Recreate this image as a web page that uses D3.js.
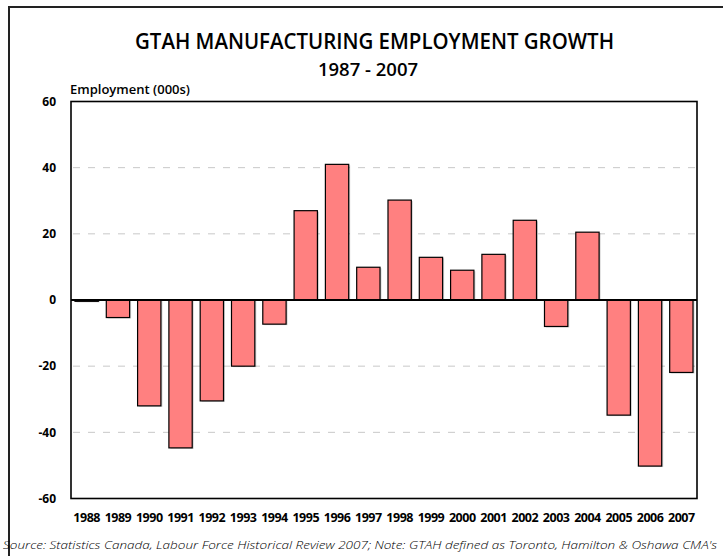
<!DOCTYPE html>
<html>
<head>
<meta charset="utf-8">
<script src="https://cdn.jsdelivr.net/npm/d3@7/dist/d3.min.js"></script>
<style>
  html, body { margin: 0; padding: 0; background: #fff; }
  svg { display: block; }
  text { font-family: "Open Sans", "Liberation Sans", sans-serif; fill: #000; }
</style>
</head>
<body>
<svg id="chart" width="723" height="556"></svg>
<script>
// Annual change in GTAH manufacturing employment (thousands)
const years = ["1988","1989","1990","1991","1992","1993","1994","1995","1996","1997",
               "1998","1999","2000","2001","2002","2003","2004","2005","2006","2007"];
const growth = [-0.4, -5.3, -32.0, -44.7, -30.5, -20.0, -7.3, 27.0, 41.0, 9.9,
                30.2, 12.9, 9.0, 13.8, 24.1, -8.0, 20.5, -34.8, -50.2, -21.9];
const yTicks = [-60, -40, -20, 0, 20, 40, 60];
const gridTicks = [-40, -20, 20, 40];

const title = "GTAH MANUFACTURING EMPLOYMENT GROWTH";
const subtitle = "1987 - 2007";
const yLabel = "Employment (000s)";
const source = "Source: Statistics Canada, Labour Force Historical Review 2007; Note: GTAH defined as Toronto, Hamilton & Oshawa CMA's";

const svg = d3.select("#chart");
const plot = { left: 71, right: 697, top: 101.5, bottom: 498.5 };

// outer frame (runs off the right and bottom edges)
svg.append("rect")
  .attr("x", 9).attr("y", 7)
  .attr("width", 730).attr("height", 560)
  .attr("fill", "none").attr("stroke", "#222").attr("stroke-width", 2);

const x = d3.scaleBand().domain(years)
  .range([plot.left, plot.right]).paddingInner(0.255).paddingOuter(0.1275);
const y = d3.scaleLinear().domain([-60, 60]).range([plot.bottom, plot.top]);

// dashed gridlines
svg.append("g").selectAll("line").data(gridTicks).join("line")
  .attr("x1", plot.left + 2).attr("x2", plot.right - 2)
  .attr("y1", d => y(d)).attr("y2", d => y(d))
  .attr("stroke", "#c8c8c8").attr("stroke-width", 1)
  .attr("stroke-dasharray", "7,8");

// bar shadows
svg.append("g").selectAll("rect").data(growth).join("rect")
  .attr("x", (d, i) => x(years[i]) + 1.5)
  .attr("y", d => Math.min(y(d), y(0)) + 1)
  .attr("width", x.bandwidth())
  .attr("height", d => Math.abs(y(d) - y(0)))
  .attr("fill", "#000").attr("opacity", 0.18);

// bars
svg.append("g").selectAll("rect").data(growth).join("rect")
  .attr("x", (d, i) => x(years[i]))
  .attr("y", d => Math.min(y(d), y(0)))
  .attr("width", x.bandwidth())
  .attr("height", d => Math.abs(y(d) - y(0)))
  .attr("fill", "#ff8080").attr("stroke", "#000").attr("stroke-width", 1.2);

// zero line
svg.append("line")
  .attr("x1", plot.left).attr("x2", plot.right)
  .attr("y1", y(0)).attr("y2", y(0))
  .attr("stroke", "#000").attr("stroke-width", 2);

// plot frame
svg.append("rect")
  .attr("x", plot.left).attr("y", plot.top)
  .attr("width", plot.right - plot.left).attr("height", plot.bottom - plot.top)
  .attr("fill", "none").attr("stroke", "#000").attr("stroke-width", 1.6);

// y axis labels
svg.append("g").selectAll("text").data(yTicks).join("text")
  .attr("x", 56).attr("y", d => y(d))
  .attr("dy", "0.35em").attr("text-anchor", "end")
  .attr("font-size", 12).attr("font-weight", 700)
  .text(d => d);

// x axis labels
svg.append("g").selectAll("text").data(years).join("text")
  .attr("x", d => x(d) + x.bandwidth() / 2).attr("y", 522)
  .attr("text-anchor", "middle")
  .attr("font-size", 12.5).attr("font-weight", 700)
  .attr("letter-spacing", -0.5)
  .text(d => d);

// titles
svg.append("text").attr("x", 374.5).attr("y", 48.5)
  .attr("text-anchor", "middle").attr("font-size", 21).attr("font-weight", 600)
  .attr("textLength", 479).attr("lengthAdjust", "spacingAndGlyphs")
  .text(title);
svg.append("text").attr("x", 368).attr("y", 75.5)
  .attr("text-anchor", "middle").attr("font-size", 18.5).attr("font-weight", 600)
  .text(subtitle);
svg.append("text").attr("x", 70).attr("y", 94)
  .attr("font-size", 12.5).attr("font-weight", 600)
  .attr("textLength", 120).attr("lengthAdjust", "spacingAndGlyphs")
  .text(yLabel);

// source note
svg.append("text").attr("x", 3).attr("y", 549)
  .attr("font-size", 11.5).attr("font-style", "italic").attr("font-weight", 300)
  .attr("textLength", 714).attr("lengthAdjust", "spacingAndGlyphs")
  .text(source);
</script>
</body>
</html>
